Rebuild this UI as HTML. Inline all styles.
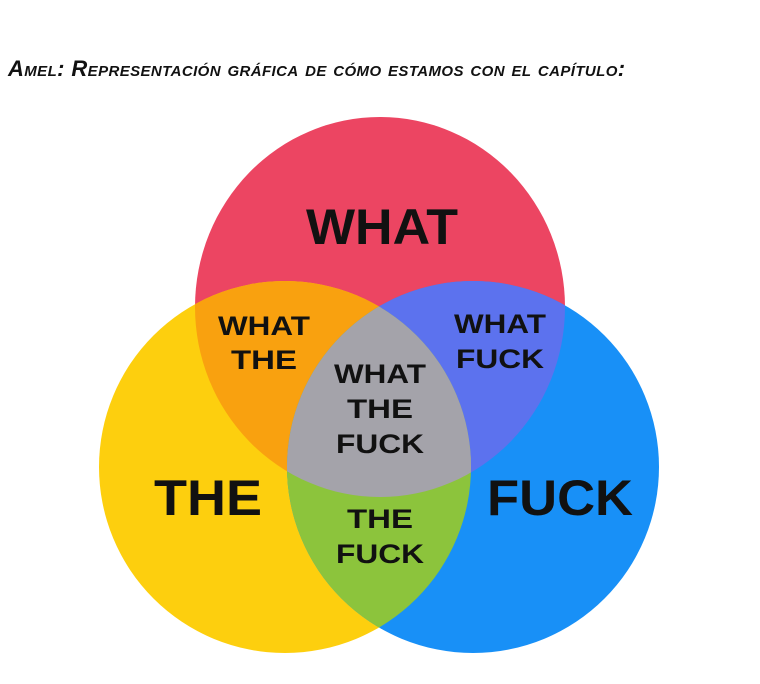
<!DOCTYPE html>
<html><head><meta charset="utf-8"><style>
html,body{margin:0;padding:0;background:#fff;width:760px;height:684px;overflow:hidden}
.t{position:absolute;left:8px;top:56px;font-family:"Liberation Sans",sans-serif;font-weight:bold;font-style:italic;font-variant:small-caps;font-size:22px;color:#111;letter-spacing:0.4px;white-space:nowrap}
svg{position:absolute;left:0;top:0}
text{font-family:"Liberation Sans",sans-serif;font-weight:bold;fill:#111;text-anchor:middle}
</style></head><body>
<div class="t">Amel: Representación gráfica de cómo estamos con el capítulo:</div>
<svg width="760" height="684">
<defs>
<clipPath id="r"><ellipse cx="380" cy="307" rx="185" ry="190"/></clipPath>
<clipPath id="y"><circle cx="285" cy="467" r="186"/></clipPath>
<clipPath id="b"><circle cx="473" cy="467" r="186"/></clipPath>
</defs>
<ellipse cx="380" cy="307" rx="185" ry="190" fill="#ec4562"/>
<circle cx="285" cy="467" r="186" fill="#fdcf0e"/>
<circle cx="473" cy="467" r="186" fill="#1890f7"/>
<g clip-path="url(#r)"><circle cx="285" cy="467" r="186" fill="#f9a10f"/><circle cx="473" cy="467" r="186" fill="#5c72ee"/></g>
<g clip-path="url(#y)"><circle cx="473" cy="467" r="186" fill="#8cc43c"/></g>
<g clip-path="url(#y)"><g clip-path="url(#b)"><ellipse cx="380" cy="307" rx="185" ry="190" fill="#a4a3aa"/></g></g>
<text x="382" y="244" font-size="50" textLength="152" lengthAdjust="spacingAndGlyphs">WHAT</text>
<text x="208" y="515" font-size="50" textLength="108" lengthAdjust="spacingAndGlyphs">THE</text>
<text x="560" y="515" font-size="50" textLength="146" lengthAdjust="spacingAndGlyphs">FUCK</text>
<g font-size="27">
<text x="264" y="335" textLength="92" lengthAdjust="spacingAndGlyphs">WHAT</text>
<text x="264" y="369" textLength="66" lengthAdjust="spacingAndGlyphs">THE</text>
<text x="500" y="333" textLength="92" lengthAdjust="spacingAndGlyphs">WHAT</text>
<text x="500" y="368" textLength="88" lengthAdjust="spacingAndGlyphs">FUCK</text>
<text x="380" y="383" textLength="92" lengthAdjust="spacingAndGlyphs">WHAT</text>
<text x="380" y="418" textLength="66" lengthAdjust="spacingAndGlyphs">THE</text>
<text x="380" y="453" textLength="88" lengthAdjust="spacingAndGlyphs">FUCK</text>
<text x="380" y="528" textLength="66" lengthAdjust="spacingAndGlyphs">THE</text>
<text x="380" y="563" textLength="88" lengthAdjust="spacingAndGlyphs">FUCK</text>
</g>
</svg>
</body></html>
